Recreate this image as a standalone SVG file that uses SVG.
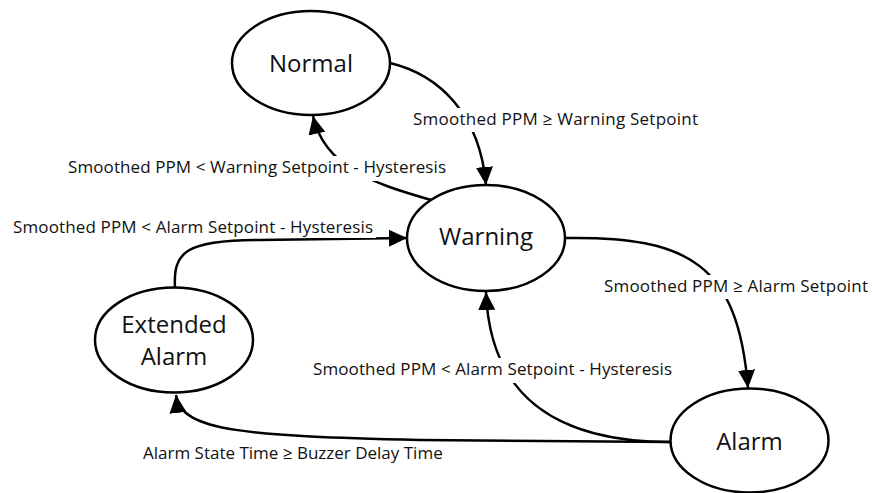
<svg xmlns="http://www.w3.org/2000/svg" width="872" height="493" viewBox="0 0 872 493">
<style>
.node ellipse{fill:#fff;stroke:#000;stroke-width:2.5}
.node text{font-family:"Open Sans","Liberation Sans",sans-serif;font-size:24px;fill:#111;text-anchor:middle}
.edge{fill:none;stroke:#000;stroke-width:2.5;marker-end:url(#arr)}
.bg{fill:#fff}
.lbl{font-family:"Open Sans","Liberation Sans",sans-serif;font-size:17px;fill:#111}
</style>
<defs>
<marker id="arr" markerUnits="userSpaceOnUse" markerWidth="18" markerHeight="17" refX="18" refY="8.5" orient="auto" viewBox="0 0 18 17">
<path d="M0,0 L18,8.5 L0,17 z" fill="#000"/>
</marker>
</defs>
<rect width="872" height="493" fill="#fff"/>
<g id="connectors">
<path class="edge" d="M390,63 C440,75 480,115 486,185"/>
<path class="edge" d="M431,200 C380,185 325,170 313,116"/>
<path class="edge" d="M175,288 C173,252 185,240 260,240 L407,238"/>
<path class="edge" d="M565,238 C690,236 738,265 748,388"/>
<path class="edge" d="M671,442 C560,442 490,400 486,292"/>
<path class="edge" d="M671,442 L420,440 C250,436 180,432 176,395"/>
</g>
<g id="labels">
<rect class="bg" x="410" y="108" width="291" height="24"/>
<rect class="bg" x="65" y="156" width="384" height="25"/>
<rect class="bg" x="10" y="216" width="366" height="22"/>
<rect class="bg" x="601" y="275" width="270" height="24"/>
<rect class="bg" x="310" y="358" width="365" height="25"/>
<rect class="bg" x="140" y="445" width="305" height="20"/>
<text class="lbl" x="555.5" y="125" text-anchor="middle" textLength="285" lengthAdjust="spacing">Smoothed PPM ≥ Warning Setpoint</text>
<text class="lbl" x="257" y="173" text-anchor="middle" textLength="378" lengthAdjust="spacing">Smoothed PPM &lt; Warning Setpoint - Hysteresis</text>
<text class="lbl" x="193" y="233" text-anchor="middle" textLength="360" lengthAdjust="spacing">Smoothed PPM &lt; Alarm Setpoint - Hysteresis</text>
<text class="lbl" x="736" y="292" text-anchor="middle" textLength="264" lengthAdjust="spacing">Smoothed PPM ≥ Alarm Setpoint</text>
<text class="lbl" x="492.5" y="375" text-anchor="middle" textLength="359" lengthAdjust="spacing">Smoothed PPM &lt; Alarm Setpoint - Hysteresis</text>
<text class="lbl" x="143" y="459">Alarm State Time ≥ Buzzer Delay Time</text>
</g>
<g id="normal" class="node"><ellipse cx="311" cy="63" rx="79" ry="52"/><text x="311" y="72">Normal</text></g>
<g id="warning" class="node"><ellipse cx="486" cy="238" rx="79" ry="53"/><text x="486" y="245">Warning</text></g>
<g id="extended-alarm" class="node"><ellipse cx="174" cy="340" rx="79" ry="52.5"/><text x="174" y="333">Extended</text><text x="174" y="365">Alarm</text></g>
<g id="alarm" class="node"><ellipse cx="749.5" cy="440.5" rx="79" ry="52"/><text x="749.5" y="450">Alarm</text></g>
</svg>
